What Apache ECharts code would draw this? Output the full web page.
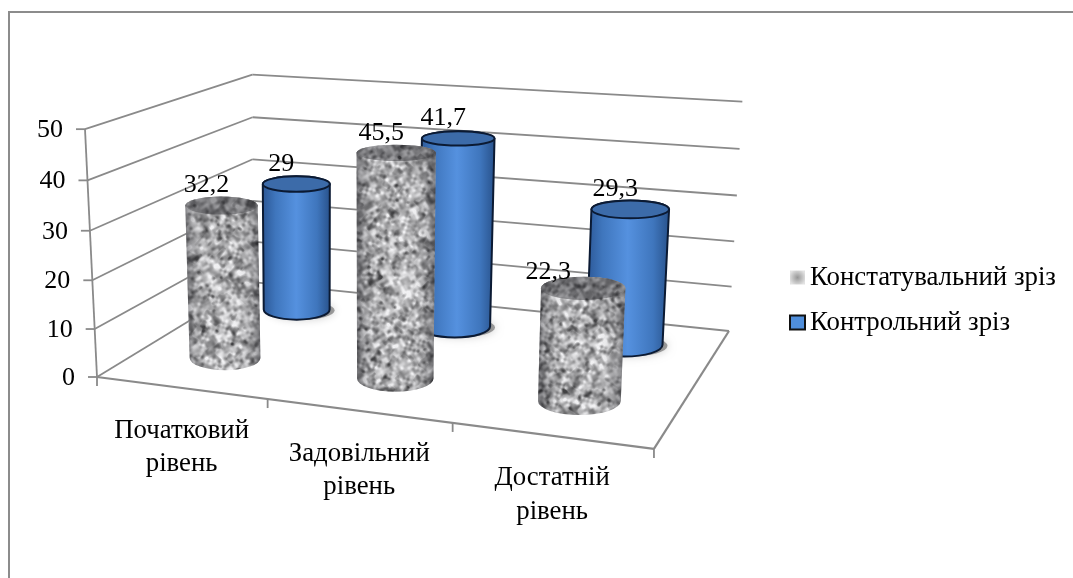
<!DOCTYPE html>
<html>
<head>
<meta charset="utf-8">
<style>html,body{margin:0;padding:0;background:#fff}#chart{width:1073px;height:578px}</style>
<script src="https://cdn.jsdelivr.net/npm/echarts@6/dist/echarts.min.js"></script>
</head>
<body>
<div id="chart"></div>
<script>
// Chart content
const categories = ['Початковий\nрівень', 'Задовільний\nрівень', 'Достатній\nрівень'];
const seriesNames = ['Констатувальний зріз', 'Контрольний зріз'];
const stateValues = [32.2, 45.5, 22.3];
const controlValues = [29, 41.7, 29.3];
const valueTicks = [0, 10, 20, 30, 40, 50];

const W = 1073, H = 578;
const FONT = '"Liberation Serif", "Times New Roman", serif';
const FONT_SIZE = 26;
const TEXT_SIZE = 26.8;
const LINE = '#8a8a8a';

// Perspective box: u runs along the categories, w into the depth, v up the value axis (all 0..1).
const PROJ = { a: 480.7, b: 203.7, c: 97, d: 19.6, e: -41.8, f: 377, g: -0.1166, h: 0.1885, p: -15.4, q: -253, r: -0.04 };
function project(u, w, v) {
  const k = PROJ.g * u + PROJ.h * w + 1 + PROJ.r * v;
  return [
    (PROJ.a * u + PROJ.b * w + PROJ.c + PROJ.p * v) / k + 4 * w * (1 - u) * v,
    (PROJ.d * u + PROJ.e * w + PROJ.f + PROJ.q * v) / k + 3 * w * v
  ];
}
const radiusU = 0.072, radiusW = 0.115;
const stateDepth = 0.27, controlDepth = 0.77;

// Granite surface: rotated lattice noise from a fixed-seed generator, softened with a slight blur.
function graniteTexture() {
  const cv = document.createElement('canvas');
  cv.width = W; cv.height = H;
  const ctx = cv.getContext('2d'), img = ctx.createImageData(W, H);
  let seed = 48271;
  const rnd = () => (seed = (seed * 16807) % 2147483647) / 2147483647;
  const layer = (cell, angle) => {
    const n = 512, g = [];
    for (let i = 0; i < n * n; i++) g.push(rnd());
    const ca = Math.cos(angle), sa = Math.sin(angle);
    const s = (t) => t * t * (3 - 2 * t);
    const at = (i, j) => g[(((j % n) + n) % n) * n + (((i % n) + n) % n)];
    return (x, y) => {
      const fx = (x * ca - y * sa) / cell, fy = (x * sa + y * ca) / cell;
      const x0 = Math.floor(fx), y0 = Math.floor(fy), tx = s(fx - x0), ty = s(fy - y0);
      const top = at(x0, y0) * (1 - tx) + at(x0 + 1, y0) * tx;
      const bot = at(x0, y0 + 1) * (1 - tx) + at(x0 + 1, y0 + 1) * tx;
      return top * (1 - ty) + bot * ty;
    };
  };
  const fine = layer(3.2, 0.5), mid = layer(5.4, 1.1), coarse = layer(13, 0.2), speck = layer(5, 0.9);
  for (let y = 0; y < H; y++) {
    for (let x = 0; x < W; x++) {
      const n = (0.48 * fine(x, y) + 0.4 * mid(x, y) + 0.12 * coarse(x, y) - 0.5) * 2.5;
      const d = Math.max(0, speck(x, y) - 0.62);
      let c = 176 + n * 92 - d * 210;
      c = Math.max(55, Math.min(240, c));
      const i = (y * W + x) * 4;
      img.data[i] = c; img.data[i + 1] = c; img.data[i + 2] = c + 2; img.data[i + 3] = 255;
    }
  }
  ctx.putImageData(img, 0, 0);
  const soft = document.createElement('canvas');
  soft.width = W; soft.height = H;
  const sctx = soft.getContext('2d');
  sctx.filter = 'blur(0.7px)';
  sctx.drawImage(cv, 0, 0);
  return soft;
}
const granite = { image: graniteTexture(), repeat: 'repeat' };

function hGradient(stops) {
  return { type: 'linear', x: 0, y: 0, x2: 1, y2: 0, colorStops: stops.map(s => ({ offset: s[0], color: s[1] })) };
}
function ellipsePath(cx, cy, rx, ry) {
  return `M ${cx - rx} ${cy} A ${rx} ${ry} 0 1 0 ${cx + rx} ${cy} A ${rx} ${ry} 0 1 0 ${cx - rx} ${cy} Z`;
}
function ellipseAt(u, w, v) {
  const c = project(u, w, v);
  const l = project(u - radiusU, w, v), rr = project(u + radiusU, w, v);
  const f = project(u, w - radiusW, v), b = project(u, w + radiusW, v);
  return { x: c[0], y: (f[1] + b[1]) / 2, rx: Math.abs(rr[0] - l[0]) / 2, ry: Math.abs(f[1] - b[1]) / 2 };
}
function sidePath(t, o) {
  return `M ${t.x - t.rx} ${t.y} L ${o.x - o.rx} ${o.y} A ${o.rx} ${o.ry} 0 0 0 ${o.x + o.rx} ${o.y} ` +
         `L ${t.x + t.rx} ${t.y} A ${t.rx} ${t.ry} 0 0 0 ${t.x - t.rx} ${t.y} Z`;
}
const numberText = (x) => String(x).replace('.', ',');
const pathEl = (d, style) => ({ type: 'path', shape: { pathData: d }, style: style });

// Data labels sit up and left of the cylinder top; the short front one was nudged aside.
const labelOffset = { normal: [-15, -20], nudged: [-35, -16] };

function cylinderSeries(name, values, depth, kind, z) {
  return {
    name: name, type: 'custom', coordinateSystem: 'cartesian2d', z: z, clip: false,
    data: values.map((val, i) => [i, val]),
    encode: { x: 0, y: 1 },
    renderItem: function (params, api) {
      const pt = api.coord([api.value(0), api.value(1)]);
      const u = pt[0] / W, v = 1 - pt[1] / H;
      const base = ellipseAt(u, depth, 0), top = ellipseAt(u, depth, v);
      const side = sidePath(top, base), cap = ellipsePath(top.x, top.y, top.rx, top.ry);
      const children = [];
      if (kind === 'control') {
        children.push(pathEl(ellipsePath(base.x + 5, base.y + 1, base.rx, base.ry - 1), {
          fill: 'rgba(0,0,0,0.35)', shadowColor: 'rgba(0,0,0,0.55)', shadowBlur: 8
        }));
        children.push(pathEl(side, {
          fill: hGradient([[0, '#2a5593'], [0.2, '#3f76bd'], [0.5, '#5591df'], [0.8, '#3f76bd'], [1, '#275089']]),
          stroke: '#0b1a33', lineWidth: 2
        }));
        children.push(pathEl(cap, { fill: '#3c6ba9', stroke: '#0b1a33', lineWidth: 2 }));
      } else {
        children.push(pathEl(side, { fill: granite }));
        children.push(pathEl(side, {
          fill: hGradient([[0, 'rgba(25,25,30,0.45)'], [0.1, 'rgba(25,25,30,0.18)'], [0.3, 'rgba(255,255,255,0.05)'],
                           [0.7, 'rgba(255,255,255,0.05)'], [0.9, 'rgba(25,25,30,0.18)'], [1, 'rgba(25,25,30,0.45)']])
        }));
        children.push(pathEl(cap, { fill: granite }));
        children.push(pathEl(cap, { fill: 'rgba(50,50,55,0.45)' }));
      }
      const off = api.value(1) === 22.3 ? labelOffset.nudged : labelOffset.normal;
      children.push({
        type: 'text',
        style: { text: numberText(api.value(1)), x: top.x + off[0], y: top.y + off[1], align: 'center', verticalAlign: 'middle',
                 fontFamily: FONT, fontSize: FONT_SIZE, fill: '#000' }
      });
      return { type: 'group', children: children };
    }
  };
}

const line3d = (a, b, width) => ({
  type: 'line', shape: { x1: a[0], y1: a[1], x2: b[0], y2: b[1] },
  style: { stroke: LINE, lineWidth: width || 1.8 }
});

// Walls, floor, gridlines and value labels
const wallSeries = {
  type: 'custom', coordinateSystem: 'cartesian2d', z: 1, clip: false, silent: true,
  data: valueTicks.map(t => [0, t]),
  encode: { x: 0, y: 1 },
  renderItem: function (params, api) {
    const val = api.value(1);
    const v = 1 - api.coord([0, val])[1] / H;
    const front = project(0, 0, v), back = project(0, 1, v), right = project(1, 1, v);
    const kids = [
      line3d(front, back), line3d(back, right),
      line3d([front[0] - 9, front[1]], front),
      { type: 'text', style: { text: String(val), x: front[0] - 22, y: front[1] + 1, align: 'right', verticalAlign: 'middle',
                               fontFamily: FONT, fontSize: FONT_SIZE, fill: '#000' } }
    ];
    if (val === 0) {
      const fr = project(1, 0, 0);
      kids.push(line3d(front, fr, 2.2), line3d(fr, right, 2.2), line3d(front, project(0, 0, 1)));
      [0, 1 / 3, 2 / 3, 1].forEach(u => {
        const p = project(u, 0, 0);
        kids.push(line3d(p, [p[0], p[1] + 9]));
      });
    }
    return { type: 'group', children: kids };
  }
};

// Category captions under the front edge of the floor
const captionSeries = {
  type: 'custom', coordinateSystem: 'cartesian2d', z: 4, clip: false, silent: true,
  data: categories.map((c, i) => [i, 0]),
  encode: { x: 0, y: 1 },
  renderItem: function (params, api) {
    const u = api.coord([api.value(0), 0])[0] / W;
    const p = project(u, 0, 0);
    return { type: 'text', style: { text: categories[params.dataIndex], x: p[0] + 1, y: p[1] + 59.5, align: 'center', verticalAlign: 'middle',
             fontFamily: FONT, fontSize: TEXT_SIZE, lineHeight: 33.5, fill: '#000' } };
  }
};

const chart = echarts.init(document.getElementById('chart'), null, { renderer: 'canvas', width: W, height: H });
chart.setOption({
  animation: false,
  backgroundColor: '#fff',
  grid: { left: 0, top: 0, width: W, height: H, containLabel: false },
  xAxis: { type: 'category', data: categories, show: false },
  yAxis: { type: 'value', min: 0, max: 50, interval: 10, show: false },
  legend: {
    orient: 'vertical', left: 784, top: 259, itemWidth: 15, itemHeight: 14, itemGap: 18,
    textStyle: { fontFamily: FONT, fontSize: TEXT_SIZE, color: '#000', padding: [4, 0, 0, 0] },
    data: [
      { name: seriesNames[0], icon: 'rect', itemStyle: { borderWidth: 0, color: { type: 'radial', x: 0.5, y: 0.5, r: 0.6, colorStops: [{ offset: 0, color: '#979797' }, { offset: 1, color: '#e2e2e2' }] } } },
      { name: seriesNames[1], icon: 'rect', itemStyle: { color: '#4f8edb', borderColor: '#111', borderWidth: 2 } }
    ]
  },
  graphic: [{
    type: 'polyline', silent: true, z: 0,
    shape: { points: [[9, H], [9, 12], [W, 12]] },
    style: { stroke: '#8c8c8c', lineWidth: 2, fill: null }
  }],
  series: [
    wallSeries,
    cylinderSeries(seriesNames[1], controlValues, controlDepth, 'control', 2),
    cylinderSeries(seriesNames[0], stateValues, stateDepth, 'state', 3),
    captionSeries
  ]
});
</script>
</body>
</html>
